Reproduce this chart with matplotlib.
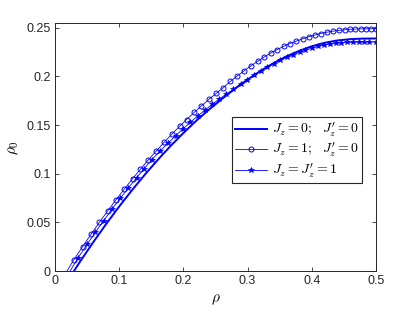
import matplotlib
matplotlib.use("Agg")
import matplotlib.pyplot as plt
import matplotlib as mpl

# ---------------------------------------------------------
# data
# ---------------------------------------------------------
RHO_A = [0.02, 0.04, 0.06, 0.08, 0.10, 0.12, 0.14, 0.16, 0.18, 0.20,
         0.22, 0.24, 0.26, 0.28, 0.30, 0.32, 0.34, 0.36, 0.38, 0.40,
         0.42, 0.44, 0.46, 0.48, 0.50]
RHO0_A = [-0.0097, 0.0106, 0.0300, 0.0486, 0.0663, 0.0831, 0.0991, 0.1142, 0.1285, 0.1418,
          0.1544, 0.1660, 0.1768, 0.1872, 0.1968, 0.2056, 0.2135, 0.2205, 0.2262, 0.2310,
          0.2346, 0.2370, 0.2383, 0.2389, 0.2390]

RHO_B = [0.014, 0.029, 0.043, 0.056, 0.069, 0.082, 0.095, 0.108, 0.121, 0.133,
         0.145, 0.158, 0.170, 0.182, 0.194, 0.205, 0.217, 0.228, 0.240, 0.251,
         0.262, 0.273, 0.284, 0.294, 0.305, 0.316, 0.326, 0.336, 0.346, 0.356,
         0.366, 0.376, 0.386, 0.395, 0.405, 0.414, 0.423, 0.433, 0.442, 0.451,
         0.460, 0.468, 0.477, 0.485, 0.493, 0.500]
RHO0_B = [-0.0050, 0.0112, 0.0251, 0.0377, 0.0499, 0.0617, 0.0732, 0.0843, 0.0950, 0.1046,
          0.1139, 0.1236, 0.1323, 0.1406, 0.1486, 0.1557, 0.1631, 0.1697, 0.1765, 0.1825,
          0.1883, 0.1948, 0.2005, 0.2055, 0.2107, 0.2157, 0.2200, 0.2240, 0.2276, 0.2308,
          0.2338, 0.2363, 0.2387, 0.2407, 0.2425, 0.2441, 0.2454, 0.2465, 0.2473, 0.2479,
          0.2484, 0.2487, 0.2489, 0.2490, 0.2490, 0.2490]

RHO_C = [0.019, 0.036, 0.050, 0.063, 0.076, 0.089, 0.102, 0.114, 0.127, 0.139,
         0.151, 0.164, 0.176, 0.188, 0.199, 0.211, 0.222, 0.234, 0.245, 0.256,
         0.267, 0.278, 0.289, 0.299, 0.310, 0.321, 0.331, 0.341, 0.351, 0.361,
         0.371, 0.381, 0.390, 0.400, 0.409, 0.419, 0.428, 0.437, 0.446, 0.455,
         0.464, 0.473, 0.481, 0.489, 0.500]
RHO0_C = [-0.0050, 0.0136, 0.0274, 0.0399, 0.0519, 0.0637, 0.0750, 0.0852, 0.0958, 0.1053,
          0.1145, 0.1234, 0.1315, 0.1391, 0.1459, 0.1530, 0.1592, 0.1657, 0.1714, 0.1768,
          0.1819, 0.1868, 0.1924, 0.1966, 0.2013, 0.2058, 0.2096, 0.2131, 0.2164, 0.2195,
          0.2223, 0.2248, 0.2269, 0.2292, 0.2308, 0.2322, 0.2332, 0.2340, 0.2346, 0.2349,
          0.2351, 0.2353, 0.2354, 0.2354, 0.2353]

LABELS = [r"$J_z=0;\ \ J_z^{\prime}=0$",
          r"$J_z=1;\ \ J_z^{\prime}=0$",
          r"$J_z=J_z^{\prime}=1$"]
XTICKS = [0, 0.1, 0.2, 0.3, 0.4, 0.5]
XTICKLABELS = ["0", "0.1", "0.2", "0.3", "0.4", "0.5"]
YTICKS = [0, 0.05, 0.1, 0.15, 0.2, 0.25]
YTICKLABELS = ["0", "0.05", "0.1", "0.15", "0.2", "0.25"]

mpl.rcParams.update({
    "font.family": ["Liberation Sans", "DejaVu Sans"],
    "mathtext.fontset": "cm",
    "font.size": 9,
    "axes.linewidth": 0.7,
    "axes.edgecolor": "#262626",
    "xtick.color": "#262626",
    "ytick.color": "#262626",
})

fig = plt.figure(figsize=(4.15, 3.12), dpi=100)
ax = fig.add_axes([0.1325, 0.1314, 0.7735, 0.7936])

blue = (0, 0, 1)
ax.plot(RHO_A, RHO0_A, "-", color=blue, lw=1.4, label=LABELS[0])
ax.plot(RHO_B, RHO0_B, "-o", color=blue, lw=0.6, ms=3.6, mfc="none", mew=0.7,
        label=LABELS[1])
ax.plot(RHO_C, RHO0_C, "-*", color=blue, lw=0.6, ms=4.0, mew=0.5,
        label=LABELS[2])

ax.set_xlim(0, 0.5)
ax.set_ylim(0, 0.2545)
ax.set_xticks(XTICKS)
ax.set_xticklabels(XTICKLABELS)
ax.set_yticks(YTICKS)
ax.set_yticklabels(YTICKLABELS)
ax.tick_params(direction="in", length=3, width=0.6, top=True, right=True,
               labelsize=9, pad=3)

ax.set_xlabel(r"$\rho$", fontsize=11, labelpad=4)
ax.set_ylabel(r"$\rho_0$", fontsize=11, labelpad=4)

leg = ax.legend(loc="upper left", bbox_to_anchor=(0.559, 0.625),
                bbox_transform=fig.transFigure, borderaxespad=0,
                fancybox=False, framealpha=1, edgecolor="#262626",
                fontsize=10, handlelength=2.3, handletextpad=0.3,
                labelspacing=0.15, borderpad=0.25, numpoints=1)
leg.get_frame().set_linewidth(0.8)

fig.savefig("out.png", dpi=100, facecolor="white")
